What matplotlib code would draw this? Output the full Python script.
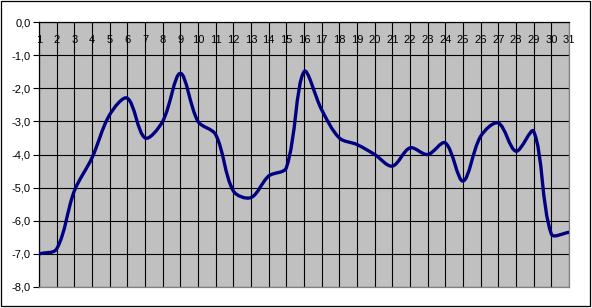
import matplotlib
matplotlib.use("Agg")
import matplotlib.pyplot as plt
import numpy as np
from matplotlib.path import Path
from matplotlib.patches import PathPatch, Rectangle
from matplotlib.ticker import FuncFormatter

plt.rcParams["font.family"] = ["Liberation Sans", "DejaVu Sans"]

# day of month and measured values
days = list(range(1, 32))
values = [-7.0, -6.85, -5.1, -4.1, -2.8, -2.3, -3.5, -3.0, -1.55, -3.0,
          -3.4, -5.1, -5.3, -4.65, -4.4, -1.5, -2.65, -3.5, -3.7, -4.0,
          -4.35, -3.8, -4.0, -3.65, -4.8, -3.45, -3.05, -3.9, -3.3, -6.4,
          -6.35]
y_ticks = [0, -1, -2, -3, -4, -5, -6, -7, -8]

W, H = 592, 308
AX_BOX = (39, 22, 569, 287)  # left, top, right, bottom in pixels


def smooth_path(x, y, sx, sy):
    # Bezier segments through every point, tangents weighted by segment
    # length in screen units (spreadsheet-style smoothed line)
    pts = np.column_stack([np.asarray(x) * sx, np.asarray(y) * sy]).astype(float)
    n = len(pts)
    verts = [pts[0]]
    codes = [Path.MOVETO]

    def ctrl(i, forward):
        p_prev = pts[max(i - 1, 0)]
        p_next = pts[min(i + 1, n - 1)]
        d_prev = np.hypot(*(pts[i] - p_prev))
        d_next = np.hypot(*(p_next - pts[i]))
        tot = d_prev + d_next
        if tot == 0:
            return pts[i]
        tang = p_next - p_prev
        if forward:
            return pts[i] + tang * d_next / tot / 3.0
        return pts[i] - tang * d_prev / tot / 3.0

    for i in range(n - 1):
        verts += [ctrl(i, True), ctrl(i + 1, False), pts[i + 1]]
        codes += [Path.CURVE4] * 3
    verts = np.array(verts)
    verts[:, 0] /= sx
    verts[:, 1] /= sy
    return Path(verts, codes)


fig = plt.figure(figsize=(W / 100, H / 100), dpi=100)
fig.patch.set_facecolor("white")
l, t, r, b = AX_BOX
ax = fig.add_axes([l / W, 1 - b / H, (r - l) / W, (b - t) / H])
ax.set_facecolor("#C0C0C0")

ax.set_xlim(1, 31)
ax.set_ylim(-8, 0)

ax.set_xticks(days)
ax.set_xticklabels([str(d) for d in days])
ax.set_yticks(y_ticks)
ax.yaxis.set_major_formatter(FuncFormatter(lambda v, _: f"{v:.1f}".replace(".", ",")))

ax.grid(True, color="black", linewidth=0.8)
ax.set_axisbelow(True)

ax.xaxis.tick_top()
ax.tick_params(axis="x", top=False, bottom=False, labeltop=True, labelbottom=False,
               length=0, pad=-16.5, labelsize=8)
ax.tick_params(axis="y", direction="out", length=4, width=0.8, pad=2, labelsize=8)

ax.spines["left"].set_color("black")
ax.spines["top"].set_color("black")
ax.spines["right"].set_color("#808080")
ax.spines["bottom"].set_color("#808080")
for s in ax.spines.values():
    s.set_linewidth(0.9)

# pixel size of one unit on each axis, so the smoothing works in screen space
px_x = (r - l) / 30.0
px_y = (b - t) / 8.0
ax.add_patch(PathPatch(smooth_path(days, values, px_x, px_y), facecolor="none",
                       edgecolor="#000080", linewidth=2.4, capstyle="round",
                       joinstyle="round", zorder=3))

fig.add_artist(Rectangle((0.5 / W, 1 - 306 / H), 589.5 / W, 305.5 / H,
                         transform=fig.transFigure, fill=False,
                         edgecolor="black", linewidth=0.9))

fig.savefig("out.png", dpi=100)
